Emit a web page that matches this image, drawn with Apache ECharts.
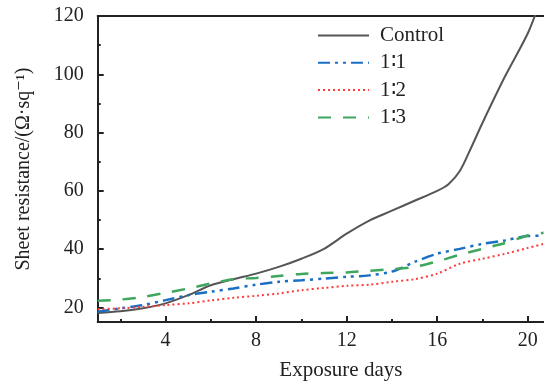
<!DOCTYPE html>
<html>
<head>
<meta charset="utf-8">
<script src="https://cdn.jsdelivr.net/npm/echarts@6/dist/echarts.min.js"></script>
<style>html,body{margin:0;padding:0;background:#fff}#c{width:544px;height:386px}</style>
</head>
<body>
<div id="c"></div>
<script>
const days = [1,2,3,4,5,6,7,8,9,10,11,12,13,14,15,16,17,18,19,20,20.7];
const controlDays = [1,2,3,4,5,6,7,8,9,10,11,12,13,14,15,16,16.5,17,17.5,18,19,20,20.5];
const control = [18.1,18.7,19.7,21.4,24.2,27.6,29.7,31.6,33.9,36.7,40.1,45.3,49.8,53.2,56.6,60.0,62.3,66.8,74.8,83.3,99.3,114,124];
const r11 = [18.5,19.7,20.8,22.5,24.2,25.4,26.5,27.8,28.8,29.3,29.9,30.5,31.0,32.3,35.6,38.4,40.1,41.8,43.0,44.5,44.6];
const r12 = [19.4,19.7,20.2,20.8,21.4,22.4,23.3,24.0,24.8,25.9,26.7,27.4,27.8,28.8,29.7,31.6,35.0,36.7,38.4,40.4,41.8];
const r13 = [22.3,22.7,23.6,25.0,26.5,28.2,29.7,30.1,30.8,31.5,31.8,32.0,32.6,33.1,33.9,35.8,38.1,40.1,42.1,44.7,45.6];
const xLabels = [4,8,12,16,20];
const xMinor = [2,6,10,14,18];
const yLabels = [20,40,60,80,100,120];
const yMinor = [30,50,70,90,110];
const names = ['Control','1∶1','1∶2','1∶3'];

const font = '"Liberation Serif","DejaVu Serif",serif';
const zip = (xs, ys) => xs.map((x,i)=>[x,ys[i]]);
const chart = echarts.init(document.getElementById('c'));
const axisLine = {show:true, lineStyle:{color:'#222', width:2}};
chart.setOption({
  animation:false,
  grid:{left:97.7, top:16, right:0, bottom:62, containLabel:false},
  legend:{
    orient:'vertical', left:312, top:20, itemWidth:51, itemHeight:18, itemGap:6.3,
    itemStyle:{opacity:0},
    textStyle:{fontFamily:font, fontSize:21, color:'#222', padding:[0,0,0,6]},
    data:names
  },
  xAxis:[
    {type:'value', min:1, max:20.72, position:'bottom',
     axisLine:axisLine,
     axisTick:{show:true, inside:true, length:6, customValues:xLabels, lineStyle:{color:'#222', width:2}},
     axisLabel:{customValues:xLabels, fontFamily:font, fontSize:20, color:'#222', margin:9},
     splitLine:{show:false},
     name:'Exposure days', nameLocation:'middle', nameGap:38,
     nameTextStyle:{fontFamily:font, fontSize:21, color:'#222', padding:[0,0,0,40]}},
    {type:'value', min:1, max:20.72, position:'bottom',
     axisLine:{show:false},
     axisTick:{show:true, inside:true, length:3, customValues:xMinor, lineStyle:{color:'#222', width:2}},
     axisLabel:{show:false}, splitLine:{show:false}},
    {type:'value', min:1, max:20.72, position:'top',
     axisLine:axisLine, axisTick:{show:false}, axisLabel:{show:false}, splitLine:{show:false}}
  ],
  yAxis:[
    {type:'value', min:15, max:120, position:'left',
     axisLine:axisLine,
     axisTick:{show:true, inside:true, length:6, customValues:yLabels, lineStyle:{color:'#222', width:2}},
     axisLabel:{customValues:yLabels, fontFamily:font, fontSize:20, color:'#222', margin:14},
     splitLine:{show:false},
     name:'Sheet resistance/(Ω·sq⁻¹)', nameLocation:'middle', nameGap:64, nameRotate:90,
     nameTextStyle:{fontFamily:font, fontSize:20, color:'#222'}},
    {type:'value', min:15, max:120, position:'left',
     axisLine:{show:false},
     axisTick:{show:true, inside:true, length:3, customValues:yMinor, lineStyle:{color:'#222', width:2}},
     axisLabel:{show:false}, splitLine:{show:false}}
  ],
  series:[
    {name:names[0], type:'line', smooth:0.3, symbol:'none', clip:true,
     lineStyle:{color:'#555555', width:2}, itemStyle:{color:'#555555'},
     data:zip(controlDays, control)},
    {name:names[1], type:'line', smooth:0.3, symbol:'none',
     lineStyle:{color:'#1a6fc4', width:2.5, type:[12,5,3,5,3,5]}, itemStyle:{color:'#1a6fc4'},
     data:zip(days, r11)},
    {name:names[2], type:'line', smooth:0.3, symbol:'none',
     lineStyle:{color:'#ff3b3b', width:2, type:[2,3]}, itemStyle:{color:'#ff3b3b'},
     data:zip(days, r12)},
    {name:names[3], type:'line', smooth:0.3, symbol:'none',
     lineStyle:{color:'#3fa65e', width:2.5, type:[13,12]}, itemStyle:{color:'#3fa65e'},
     data:zip(days, r13)}
  ]
});
</script>
</body>
</html>
